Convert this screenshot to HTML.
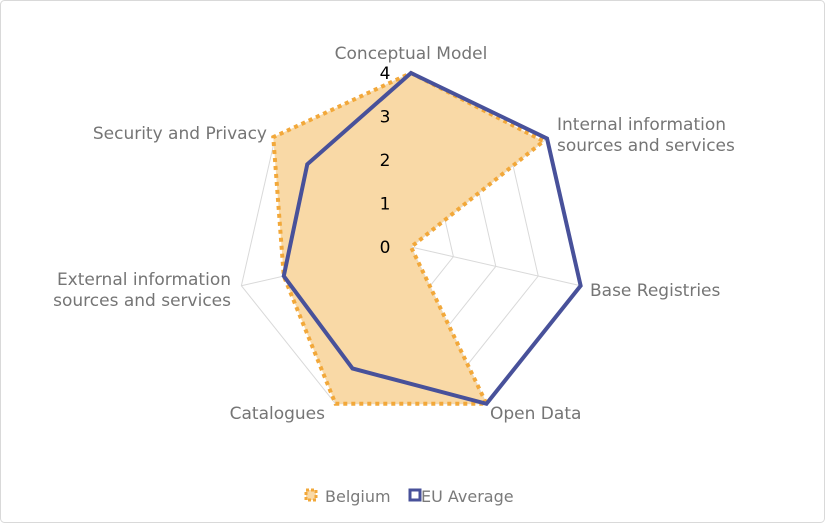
<!DOCTYPE html>
<html><head><meta charset="utf-8"><style>
body{margin:0;background:#fff}
svg{display:block;font-family:"DejaVu Sans","Liberation Sans",sans-serif}
</style></head><body>
<svg id="chart" width="825" height="523">
<rect x="0.5" y="0.5" width="824" height="522" rx="4" fill="#fff" stroke="#d9d9d9"/>
<g id="grid"></g><g id="series"></g><g id="labels"></g>
<g>
<g>
<rect x="306" y="490" width="10" height="10" fill="#f9d9a6" stroke="#f2a83a" stroke-width="3" stroke-dasharray="3 2"/>
<text x="325" y="502" font-size="16" fill="#7a7a7a">Belgium</text></g>
<g>
<rect x="410" y="490" width="10" height="10" fill="#fff" stroke="#48519a" stroke-width="3"/>
<text x="421" y="502" font-size="16" fill="#7a7a7a">EU Average</text></g>
</g>
</svg>
<script>
const categories=["Conceptual Model","Internal information\nsources and services","Base Registries","Open Data","Catalogues","External information\nsources and services","Security and Privacy"];
const belgium=[4,3.9,0,4,4,3,4.05];
const euAverage=[4,4,4,4,3.1,3,3.05];
const ticks=[0,1,2,3,4];
const NS="http://www.w3.org/2000/svg";
const cx=411,cy=247,R=174,max=4,n=categories.length;
function pt(i,v){const a=2*Math.PI*i/n;const r=R*v/max;return [cx+r*Math.sin(a),cy-r*Math.cos(a)];}
function mk(tag,at,parent){const e=document.createElementNS(NS,tag);for(const k in at)e.setAttribute(k,at[k]);parent.appendChild(e);return e;}
const grid=document.getElementById('grid'),ser=document.getElementById('series'),lab=document.getElementById('labels');
ticks.slice(1).forEach(t=>{const p=categories.map((c,i)=>pt(i,t).join(',')).join(' ');
const g=mk('polygon',{points:p,fill:'none',stroke:'#d9d9d9','stroke-width':1},grid);

});
categories.forEach((c,i)=>{const [x,y]=pt(i,max);const l=mk('line',{x1:cx,y1:cy,x2:x,y2:y,stroke:'#d9d9d9'},grid);

});
function poly(vals,fill,stroke,dash,name){const p=vals.map((v,i)=>pt(i,v).join(',')).join(' ');
const e=mk('polygon',{points:p,fill:fill,stroke:stroke,'stroke-width':4,'stroke-linejoin':'miter'},ser);
if(dash)e.setAttribute('stroke-dasharray',dash);

}
poly(belgium,'#f9d9a6','#f2a83a','4 4','series-belgium');
poly(euAverage,'none','#48519a',null,'series-eu-average');
ticks.forEach(t=>{const y=cy-R*t/max;const e=mk('text',{x:385,y:y+6,'font-size':17,'text-anchor':'middle',fill:'#000'},lab);e.textContent=t;

});
const lp=[[411,59,'middle'],[557,130,'start'],[590,296,'start'],[490,419,'start'],[325,419,'end'],[231,285,'end'],[267,139,'end']];
categories.forEach((c,i)=>{const [x,y,an]=lp[i];const e=mk('text',{x:x,y:y,'font-size':17,'text-anchor':an,fill:'#757575'},lab);


c.split('\n').forEach((s,k)=>{const ts=mk('tspan',{x:x,dy:k?21:0},e);ts.textContent=s;});});
</script>
</body></html>
